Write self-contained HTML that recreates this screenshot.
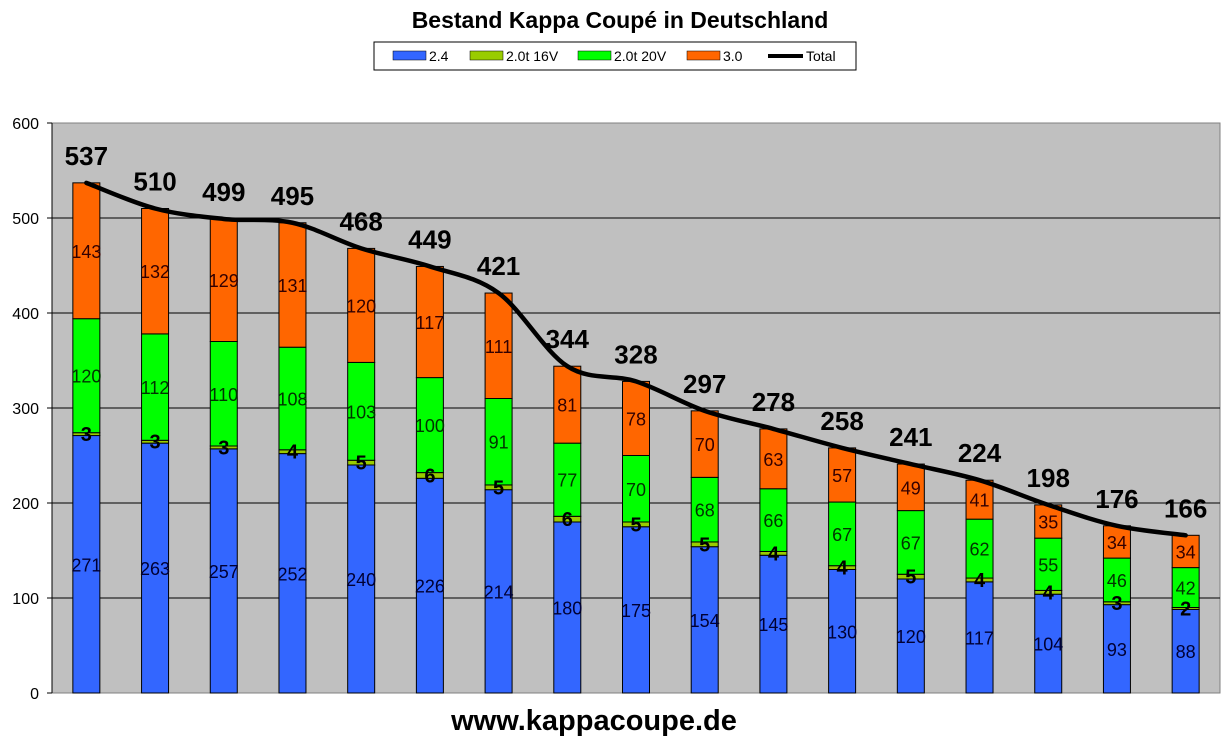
<!DOCTYPE html>
<html><head><meta charset="utf-8"><style>
body{margin:0;background:#fff;width:1231px;height:745px;overflow:hidden;font-family:"Liberation Sans",Arial,sans-serif}
</style></head><body>
<svg id="chart" width="1231" height="745" xmlns="http://www.w3.org/2000/svg" font-family="Liberation Sans, Arial, sans-serif">
<text x="620" y="28" text-anchor="middle" font-size="23" font-weight="bold">Bestand Kappa Coupé in Deutschland</text>
<g>
<rect x="374" y="42" width="482" height="28" fill="#fff" stroke="#000"/>
<rect x="393" y="51" width="33" height="9" fill="#3366ff" stroke="#000" stroke-width="0.5"/><text x="429" y="61" font-size="14">2.4</text>
<rect x="470" y="51" width="33" height="9" fill="#99cc00" stroke="#000" stroke-width="0.5"/><text x="506" y="61" font-size="14">2.0t 16V</text>
<rect x="578" y="51" width="33" height="9" fill="#00ff00" stroke="#000" stroke-width="0.5"/><text x="614" y="61" font-size="14">2.0t 20V</text>
<rect x="687" y="51" width="33" height="9" fill="#ff6600" stroke="#000" stroke-width="0.5"/><text x="723" y="61" font-size="14">3.0</text>
<line x1="768" y1="56" x2="803" y2="56" stroke="#000" stroke-width="4"/><text x="806" y="61" font-size="14">Total</text>
</g>
<rect x="52" y="123" width="1168" height="570" fill="#c0c0c0" stroke="#808080"/>
<g id="grid"></g><g id="bars"></g><g id="line"></g><g id="labels"></g>
<text x="594" y="730" text-anchor="middle" font-size="29" font-weight="bold">www.kappacoupe.de</text>
</svg>
<script>
const v24=[271,263,257,252,240,226,214,180,175,154,145,130,120,117,104,93,88];
const v16=[3,3,3,4,5,6,5,6,5,5,4,4,5,4,4,3,2];
const v20=[120,112,110,108,103,100,91,77,70,68,66,67,67,62,55,46,42];
const v30=[143,132,129,131,120,117,111,81,78,70,63,57,49,41,35,34,34];
const totals=[537,510,499,495,468,449,421,344,328,297,278,258,241,224,198,176,166];
const yTicks=[0,100,200,300,400,500,600];
const NS="http://www.w3.org/2000/svg";
const X0=52,W=1168,Y0=693,PH=570,YMAX=600,N=totals.length;
const y=v=>Y0-v/YMAX*PH;
const xc=i=>X0+W/N*(i+0.5);
function mk(tag,attrs,parent,txt){const e=document.createElementNS(NS,tag);for(const k in attrs)e.setAttribute(k,attrs[k]);if(txt!==undefined)e.textContent=txt;parent.appendChild(e);return e;}
const grid=document.getElementById('grid'),bars=document.getElementById('bars'),lab=document.getElementById('labels'),ln=document.getElementById('line');
yTicks.forEach(t=>{
 if(t>0&&t<600){const l=mk('line',{x1:X0,x2:X0+W,y1:y(t),y2:y(t),stroke:'#000','stroke-width':1},grid);
 }
 const tk=mk('line',{x1:X0-5,x2:X0,y1:y(t),y2:y(t),stroke:'#000'},grid);
 
 const tx=mk('text',{x:X0-13,y:y(t)+6,'text-anchor':'end','font-size':16},grid,t);
 
});
mk('line',{x1:X0,x2:X0,y1:123,y2:Y0,stroke:'#000'},grid);
const series=[{d:v24,c:'#3366ff',tc:'#000033',n:'2-4'},{d:v16,c:'#99cc00',tc:'#000',n:'2-0t-16v'},{d:v20,c:'#00ff00',tc:'#003300',n:'2-0t-20v'},{d:v30,c:'#ff6600',tc:'#330000',n:'3-0'}];
const BW=27;
for(let i=0;i<N;i++){
 let base=0;
 series.forEach((s,si)=>{
  const v=s.d[i],top=base+v;
  const r=mk('rect',{x:xc(i)-BW/2,y:y(top),width:BW,height:y(base)-y(top),fill:s.c,stroke:'#000','stroke-width':1},bars);
  
  const my=(y(base)+y(top))/2;
  const t=mk('text',{x:xc(i),y:my+7,'text-anchor':'middle','font-size':si==1?20:18,'font-weight':si==1?'bold':'normal',fill:s.tc},lab,v);
  
  base=top;
 });
 const tt=mk('text',{x:xc(i),y:y(totals[i])-18,'text-anchor':'middle','font-size':26,'font-weight':'bold'},lab,totals[i]);
 
}
const pts=totals.map((t,i)=>[xc(i),y(t)]);
let d='M'+pts[0][0]+','+pts[0][1];
for(let i=0;i<pts.length-1;i++){
 const p0=pts[Math.max(0,i-1)],p1=pts[i],p2=pts[i+1],p3=pts[Math.min(pts.length-1,i+2)];
 const c1=[p1[0]+(p2[0]-p0[0])/6,p1[1]+(p2[1]-p0[1])/6],c2=[p2[0]-(p3[0]-p1[0])/6,p2[1]-(p3[1]-p1[1])/6];
 d+=` C${c1[0]},${c1[1]} ${c2[0]},${c2[1]} ${p2[0]},${p2[1]}`;
}
const path=mk('path',{d:d,fill:'none',stroke:'#000','stroke-width':4.5,'stroke-linecap':'round'},ln);

</script>
</body></html>
